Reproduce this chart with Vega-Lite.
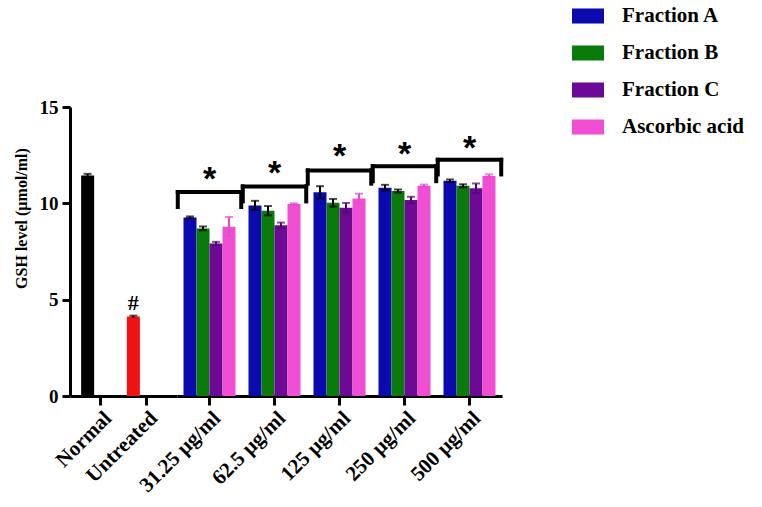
{
  "$schema": "https://vega.github.io/schema/vega-lite/v6.json",
  "background": "white",
  "padding": {"left": 13, "top": 0, "right": 2, "bottom": 2},
  "spacing": 0,
  "bounds": "flush",
  "config": {
    "view": {"stroke": null},
    "font": "Liberation Serif",
    "axis": {
      "domainColor": "black", "domainWidth": 3, "tickColor": "black", "tickWidth": 3, "tickSize": 9,
      "labelFont": "Liberation Serif", "labelFontSize": 21, "labelFontWeight": "bold", "labelColor": "black",
      "titleFont": "Liberation Serif", "titleFontSize": 16, "titleFontWeight": "bold", "titleColor": "black",
      "grid": false
    }
  },
  "datasets": {
    "bars": [
      {"group": "Normal", "series": "Normal", "v": 11.45, "lo": 11.38, "hi": 11.53},
      {"group": "Untreated", "series": "Untreated", "v": 4.12, "lo": 4.07, "hi": 4.17},
      {"group": "31.25 µg/ml", "series": "Fraction A", "v": 9.27, "lo": 9.22, "hi": 9.32},
      {"group": "31.25 µg/ml", "series": "Fraction B", "v": 8.70, "lo": 8.60, "hi": 8.80},
      {"group": "31.25 µg/ml", "series": "Fraction C", "v": 7.92, "lo": 7.84, "hi": 8.00},
      {"group": "31.25 µg/ml", "series": "Ascorbic acid", "v": 8.79, "lo": 8.29, "hi": 9.29},
      {"group": "62.5 µg/ml", "series": "Fraction A", "v": 9.89, "lo": 9.65, "hi": 10.13},
      {"group": "62.5 µg/ml", "series": "Fraction B", "v": 9.62, "lo": 9.38, "hi": 9.86},
      {"group": "62.5 µg/ml", "series": "Fraction C", "v": 8.86, "lo": 8.72, "hi": 9.00},
      {"group": "62.5 µg/ml", "series": "Ascorbic acid", "v": 9.96, "lo": 9.92, "hi": 10.00},
      {"group": "125 µg/ml", "series": "Fraction A", "v": 10.57, "lo": 10.25, "hi": 10.89},
      {"group": "125 µg/ml", "series": "Fraction B", "v": 10.03, "lo": 9.83, "hi": 10.23},
      {"group": "125 µg/ml", "series": "Fraction C", "v": 9.77, "lo": 9.52, "hi": 10.02},
      {"group": "125 µg/ml", "series": "Ascorbic acid", "v": 10.25, "lo": 10.00, "hi": 10.50},
      {"group": "250 µg/ml", "series": "Fraction A", "v": 10.81, "lo": 10.66, "hi": 10.96},
      {"group": "250 µg/ml", "series": "Fraction B", "v": 10.64, "lo": 10.56, "hi": 10.72},
      {"group": "250 µg/ml", "series": "Fraction C", "v": 10.17, "lo": 10.00, "hi": 10.34},
      {"group": "250 µg/ml", "series": "Ascorbic acid", "v": 10.91, "lo": 10.85, "hi": 10.97},
      {"group": "500 µg/ml", "series": "Fraction A", "v": 11.17, "lo": 11.10, "hi": 11.24},
      {"group": "500 µg/ml", "series": "Fraction B", "v": 10.91, "lo": 10.83, "hi": 10.99},
      {"group": "500 µg/ml", "series": "Fraction C", "v": 10.78, "lo": 10.53, "hi": 11.03},
      {"group": "500 µg/ml", "series": "Ascorbic acid", "v": 11.42, "lo": 11.34, "hi": 11.50}
    ],
    "brackets": [
      {"group": "31.25 µg/ml", "top": 10.59, "bot": 9.81, "star": 11.55, "label": "*"},
      {"group": "62.5 µg/ml", "top": 10.88, "bot": 10.10, "star": 11.88, "label": "*"},
      {"group": "125 µg/ml", "top": 11.71, "bot": 11.02, "star": 12.75, "label": "*"},
      {"group": "250 µg/ml", "top": 11.93, "bot": 11.15, "star": 12.85, "label": "*"},
      {"group": "500 µg/ml", "top": 12.26, "bot": 11.50, "star": 13.18, "label": "*"}
    ],
    "hash": [
      {"group": "Untreated", "y": 4.85, "label": "#"}
    ]
  },
  "hconcat": [
    {
      "width": 107,
      "height": 289,
      "layer": [
        {
          "data": {"name": "bars"},
          "transform": [{"filter": "datum.group === 'Normal' || datum.group === 'Untreated'"}],
          "mark": {"type": "bar", "width": 13, "xOffset": -13},
          "encoding": {
            "x": {"field": "group", "type": "nominal", "sort": null,
                  "scale": {"domain": ["Normal", "Untreated"], "paddingInner": 0, "paddingOuter": 0.17},
                  "axis": {"title": null, "labelAngle": -45, "labelPadding": 2}},
            "y": {"field": "v", "type": "quantitative",
                  "scale": {"domain": [0, 15], "nice": false},
                  "axis": {"title": "GSH level (µmol/ml)", "values": [0, 5, 10, 15], "tickSize": 8, "labelPadding": 4, "labelFontSize": 19, "titlePadding": 10, "titleY": 111}},
            "color": {"field": "series", "type": "nominal",
                      "scale": {"domain": ["Fraction A", "Fraction B", "Fraction C", "Ascorbic acid", "Normal", "Untreated"],
                                "range": ["#0a0aae", "#0a7a0a", "#6c0a96", "#f04fd4", "#000000", "#f01212"]},
                      "legend": {"values": ["Fraction A", "Fraction B", "Fraction C", "Ascorbic acid"],
                                 "title": null, "orient": "none", "legendX": 502, "legendY": -107,
                                 "symbolType": "M-1,-0.47H1V0.47H-1Z", "symbolSize": 1024, "symbolStrokeWidth": 0,
                                 "labelFont": "Liberation Serif", "labelFontWeight": "bold", "labelFontSize": 21, "labelColor": "black",
                                 "labelOffset": 18, "rowPadding": 11, "labelLimit": 300}}
          }
        },
        {
          "data": {"name": "bars"},
          "transform": [{"filter": "datum.group === 'Normal' || datum.group === 'Untreated'"}],
          "mark": {"type": "rule", "xOffset": -13, "strokeWidth": 2},
          "encoding": {
            "x": {"field": "group", "type": "nominal", "sort": null},
            "y": {"field": "lo", "type": "quantitative"},
            "y2": {"field": "hi"},
            "stroke": {"value": "black"}
          }
        },
        {
          "data": {"name": "bars"},
          "transform": [{"filter": "datum.group === 'Normal' || datum.group === 'Untreated'"}],
          "mark": {"type": "tick", "xOffset": -13, "thickness": 2, "size": 8, "color": "black"},
          "encoding": {
            "x": {"field": "group", "type": "nominal", "sort": null},
            "y": {"field": "hi", "type": "quantitative"}
          }
        },
        {
          "data": {"name": "hash"},
          "mark": {"type": "text", "xOffset": -13, "font": "Liberation Serif", "fontWeight": "bold", "fontSize": 22, "baseline": "middle", "color": "black"},
          "encoding": {
            "x": {"field": "group", "type": "nominal", "sort": null},
            "y": {"field": "y", "type": "quantitative"},
            "text": {"field": "label"}
          }
        }
      ]
    },
    {
      "width": 325,
      "height": 289,
      "encoding": {
        "x": {"field": "group", "type": "nominal", "sort": null,
              "scale": {"domain": ["31.25 µg/ml", "62.5 µg/ml", "125 µg/ml", "250 µg/ml", "500 µg/ml"], "paddingInner": 0.2, "paddingOuter": 0.1},
              "axis": {"title": null, "labelAngle": -45, "labelPadding": 2}}
      },
      "layer": [
        {
          "data": {"name": "bars"},
          "transform": [{"filter": "datum.group !== 'Normal' && datum.group !== 'Untreated'"}],
          "mark": {"type": "bar"},
          "encoding": {
            "xOffset": {"field": "series", "type": "nominal", "sort": null,
                        "scale": {"domain": ["Fraction A", "Fraction B", "Fraction C", "Ascorbic acid"], "paddingInner": 0, "paddingOuter": 0}},
            "y": {"field": "v", "type": "quantitative", "scale": {"domain": [0, 15], "nice": false}, "axis": null},
            "color": {"field": "series", "type": "nominal"}
          }
        },
        {
          "data": {"name": "bars"},
          "transform": [{"filter": "datum.group !== 'Normal' && datum.group !== 'Untreated'"}],
          "mark": {"type": "rule", "strokeWidth": 2},
          "encoding": {
            "xOffset": {"field": "series", "type": "nominal", "sort": null},
            "y": {"field": "lo", "type": "quantitative"},
            "y2": {"field": "hi"},
            "stroke": {"field": "series", "type": "nominal", "legend": null,
                       "scale": {"domain": ["Fraction A", "Fraction B", "Fraction C", "Ascorbic acid"], "range": ["#000000", "#000000", "#4a0a70", "#e848cc"]}}
          }
        },
        {
          "data": {"name": "bars"},
          "transform": [{"filter": "datum.group !== 'Normal' && datum.group !== 'Untreated'"}],
          "mark": {"type": "tick", "thickness": 2, "size": 8},
          "encoding": {
            "xOffset": {"field": "series", "type": "nominal", "sort": null},
            "y": {"field": "hi", "type": "quantitative"},
            "fill": {"field": "series", "type": "nominal", "legend": null,
                     "scale": {"domain": ["Fraction A", "Fraction B", "Fraction C", "Ascorbic acid"], "range": ["#000000", "#000000", "#4a0a70", "#e848cc"]}}
          }
        },
        {
          "data": {"name": "bars"},
          "transform": [{"filter": "datum.group !== 'Normal' && datum.group !== 'Untreated'"}],
          "mark": {"type": "tick", "thickness": 2, "size": 8},
          "encoding": {
            "xOffset": {"field": "series", "type": "nominal", "sort": null},
            "y": {"field": "lo", "type": "quantitative"},
            "fill": {"field": "series", "type": "nominal", "legend": null}
          }
        },
        {
          "data": {"name": "brackets"},
          "mark": {"type": "rule", "strokeWidth": 4, "strokeCap": "square", "color": "black"},
          "encoding": {
            "x": {"field": "group", "type": "nominal", "sort": null, "bandPosition": -0.11},
            "x2": {"field": "group", "bandPosition": 1.11},
            "y": {"field": "top", "type": "quantitative"}
          }
        },
        {
          "data": {"name": "brackets"},
          "mark": {"type": "rule", "strokeWidth": 4, "strokeCap": "square", "color": "black"},
          "encoding": {
            "x": {"field": "group", "type": "nominal", "sort": null, "bandPosition": -0.11},
            "y": {"field": "top", "type": "quantitative"},
            "y2": {"field": "bot"}
          }
        },
        {
          "data": {"name": "brackets"},
          "mark": {"type": "rule", "strokeWidth": 4, "strokeCap": "square", "color": "black"},
          "encoding": {
            "x": {"field": "group", "type": "nominal", "sort": null, "bandPosition": 1.11},
            "y": {"field": "top", "type": "quantitative"},
            "y2": {"field": "bot"}
          }
        },
        {
          "data": {"name": "brackets"},
          "mark": {"type": "text", "font": "Liberation Sans", "fontWeight": "bold", "fontSize": 34, "baseline": "middle", "dy": 7, "color": "black"},
          "encoding": {
            "x": {"field": "group", "type": "nominal", "sort": null},
            "y": {"field": "star", "type": "quantitative"},
            "text": {"field": "label"}
          }
        }
      ]
    }
  ]
}
